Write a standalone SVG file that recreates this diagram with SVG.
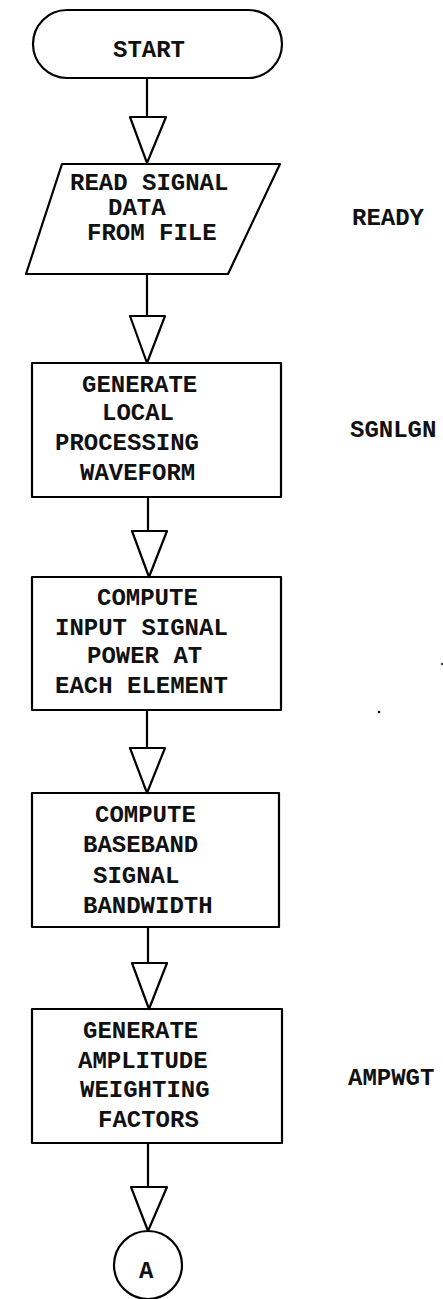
<svg xmlns="http://www.w3.org/2000/svg" width="443" height="1299" viewBox="0 0 443 1299">
<style>
.s{fill:none;stroke:#000;stroke-width:2.2;stroke-linejoin:round}
.t{font-family:"Liberation Mono","Courier New",monospace;font-weight:bold;font-size:24px;fill:#111}
</style>
<rect width="443" height="1299" fill="#fff"/>
<g id="start"><rect class="s" x="33" y="10" width="249" height="68" rx="34" ry="34"/><text class="t" x="113" y="57">START</text></g>
<g id="read"><polygon class="s" points="62,164 280,164 228,274 26,274"/>
<text class="t" x="70" y="190">READ SIGNAL</text><text class="t" x="108" y="215">DATA</text><text class="t" x="87" y="240">FROM FILE</text></g>
<g id="gen1"><rect class="s" x="32" y="363" width="249" height="134"/>
<text class="t" x="82" y="392">GENERATE</text><text class="t" x="102" y="420">LOCAL</text><text class="t" x="55" y="450">PROCESSING</text><text class="t" x="80" y="480">WAVEFORM</text></g>
<g id="comp1"><rect class="s" x="32" y="577" width="249" height="133"/>
<text class="t" x="97" y="605">COMPUTE</text><text class="t" x="55" y="635">INPUT SIGNAL</text><text class="t" x="87" y="663">POWER AT</text><text class="t" x="55" y="693">EACH ELEMENT</text></g>
<g id="comp2"><rect class="s" x="32" y="793" width="247" height="134"/>
<text class="t" x="95" y="822">COMPUTE</text><text class="t" x="83" y="852">BASEBAND</text><text class="t" x="93" y="883">SIGNAL</text><text class="t" x="83" y="913">BANDWIDTH</text></g>
<g id="gen2"><rect class="s" x="32" y="1009" width="250" height="134"/>
<text class="t" x="83" y="1038">GENERATE</text><text class="t" x="78" y="1068">AMPLITUDE</text><text class="t" x="80" y="1097">WEIGHTING</text><text class="t" x="98" y="1127">FACTORS</text></g>
<g id="connA"><circle class="s" cx="148" cy="1265" r="34"/><text class="t" x="139" y="1278" font-size="20">A</text></g>
<g id="labels">
<text class="t" x="352" y="225">READY</text>
<text class="t" x="350" y="437">SGNLGN</text>
<text class="t" x="348" y="1085">AMPWGT</text>
</g>
<g id="connectors">
<path class="s" d="M147,78V117M130,117H166L147,163Z"/>
<path class="s" d="M147,274V316M130,316H165L147,363Z"/>
<path class="s" d="M148,497V531M132,531H167L149,577Z"/>
<path class="s" d="M147,710V748M130,748H165L147,793Z"/>
<path class="s" d="M148,927V963M132,963H167L149,1009Z"/>
<path class="s" d="M148,1143V1187M131,1187H167L148,1231Z"/>
</g>
<g id="specks"><circle cx="379" cy="712" r="1.3" fill="#000"/><circle cx="442" cy="664" r="1" fill="#000"/></g>
</svg>
